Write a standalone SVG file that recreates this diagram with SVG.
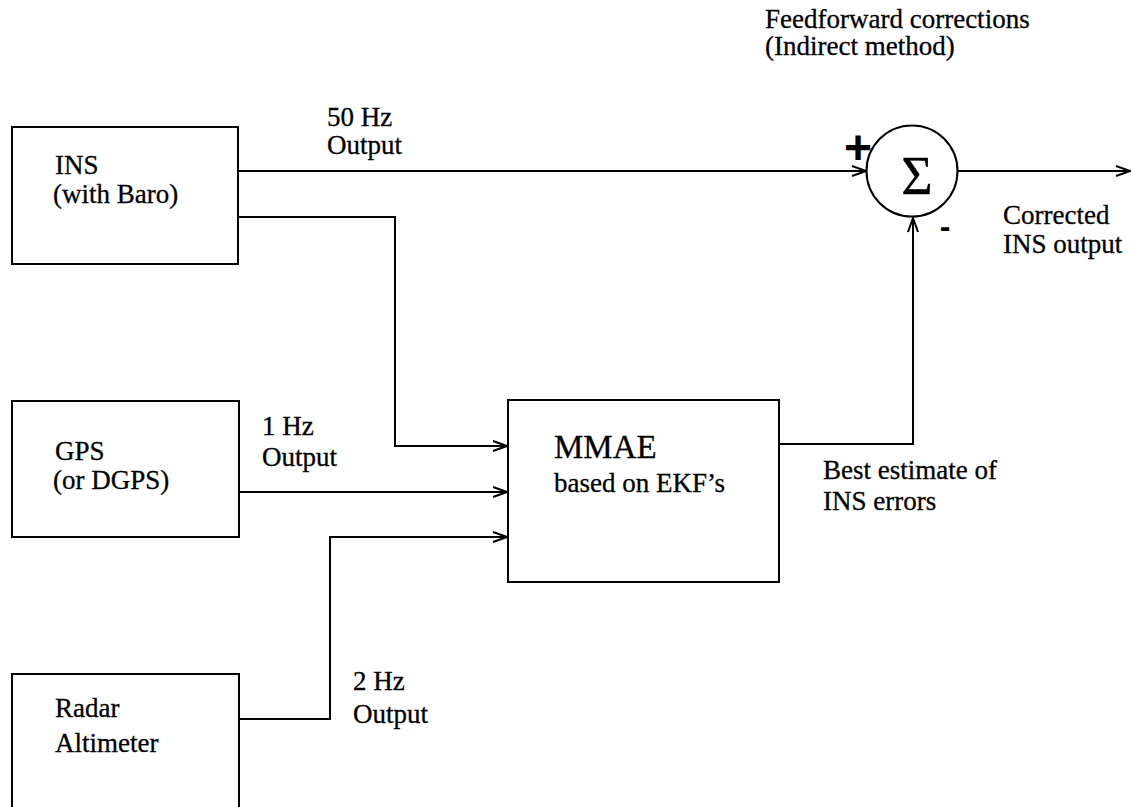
<svg xmlns="http://www.w3.org/2000/svg" width="1132" height="807" viewBox="0 0 1132 807">
<style>
.box{fill:none;stroke:#000;stroke-width:2}
.ln{fill:none;stroke:#000;stroke-width:2}
.t{font-family:'Liberation Serif','Times New Roman',Times,serif;font-size:27px;fill:#000;stroke:#000;stroke-width:0.3}
.big{font-size:33px}
.sig{font-size:54px}
.sym{font-family:'Liberation Sans',Arial,sans-serif;font-weight:bold;fill:#000}
.plus{font-size:48px}
.minus{font-size:32px}
</style>
<defs>
<marker id="arr" markerWidth="16" markerHeight="12" refX="15" refY="6" orient="auto" markerUnits="userSpaceOnUse">
<path d="M1,1 L15,6 L1,11" fill="none" stroke="#000" stroke-width="2"/>
</marker>
</defs>
<rect width="1132" height="807" fill="#fff"/>
<g id="ins">
<rect class="box" x="12" y="127" width="226" height="137"/>
<text class="t" x="55" y="174">INS</text>
<text class="t" x="53" y="203">(with Baro)</text>
</g>
<g id="gps">
<rect class="box" x="12" y="401" width="227" height="136"/>
<text class="t" x="55" y="460">GPS</text>
<text class="t" x="53" y="489">(or DGPS)</text>
</g>
<g id="radar">
<rect class="box" x="12" y="674" width="227" height="150"/>
<text class="t" x="55" y="717">Radar</text>
<text class="t" x="55" y="752">Altimeter</text>
</g>
<g id="mmae">
<rect class="box" x="508" y="400" width="271" height="182"/>
<text class="t big" x="554" y="458">MMAE</text>
<text class="t" x="554" y="492">based on EKF’s</text>
</g>
<g id="sum">
<circle class="box" cx="912" cy="171" r="45.5"/>
<text class="t sig" x="917" y="194" text-anchor="middle">Σ</text>
<text class="sym plus" x="858" y="164" text-anchor="middle">+</text>
<text class="sym minus" x="945" y="237" text-anchor="middle">-</text>
</g>
<g id="connectors">
<path class="ln" d="M238,171 H866" marker-end="url(#arr)"/>
<path class="ln" d="M958,171 H1130" marker-end="url(#arr)"/>
<path class="ln" d="M238,217 H395 V446 H507" marker-end="url(#arr)"/>
<path class="ln" d="M239,492 H507" marker-end="url(#arr)"/>
<path class="ln" d="M239,719 H330 V537 H507" marker-end="url(#arr)"/>
<path class="ln" d="M779,444 H913 V218" marker-end="url(#arr)"/>
</g>
<g id="labels">
<text class="t" x="765" y="28">Feedforward corrections</text>
<text class="t" x="765" y="55">(Indirect method)</text>
<text class="t" x="327" y="126">50 Hz</text>
<text class="t" x="327" y="154">Output</text>
<text class="t" x="262" y="435">1 Hz</text>
<text class="t" x="262" y="466">Output</text>
<text class="t" x="353" y="690">2 Hz</text>
<text class="t" x="353" y="723">Output</text>
<text class="t" x="823" y="479">Best estimate of</text>
<text class="t" x="823" y="510">INS errors</text>
<text class="t" x="1003" y="224">Corrected</text>
<text class="t" x="1003" y="253">INS output</text>
</g>
</svg>
